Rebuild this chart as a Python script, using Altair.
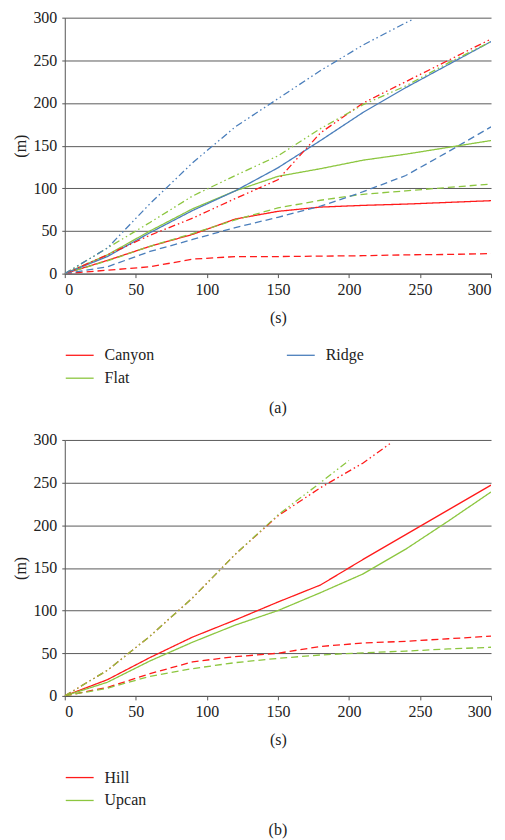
import altair as alt
import pandas as pd

# ---------------- data ----------------
T = [0, 30, 60, 90, 120, 150, 180, 210, 240, 270, 300]

# panel (a)
canyon_solid = [0, 15.5, 32, 46, 64, 73, 78, 80, 81.5, 83.5, 85.5]
canyon_dashed = [0, 4, 8, 17, 20, 20, 20.5, 21, 22, 22.5, 23.5]
canyon_dashdot = [0, 22, 45, 65, 88, 110, 165, 200, 225, 250, 275]
flat_solid = [0, 22, 50, 76, 97, 114, 123, 133, 140, 148, 156]
flat_dashed = [0, 15, 32, 47, 63, 77, 86, 93, 97, 101, 105]
flat_dashdot = [0, 30, 60, 91, 115, 138, 170, 198, 220, 247, 272]
ridge_solid = [0, 20, 48, 74, 97, 124, 156, 189, 218, 245, 272]
ridge_dashed = [0, 8, 26, 40, 54, 66, 79, 96, 115, 143, 172]
T_ridge_dd = [0, 30, 60, 90, 120, 150, 180, 210, 240, 245]
ridge_dashdot = [0, 30, 82, 130, 172, 205, 238, 268, 294, 298]

# panel (b)
hill_solid = [0, 19, 45, 69, 89, 110, 130, 160, 189, 218, 247]
hill_dashed = [0, 10, 26, 40, 46, 50, 58, 62, 64, 67, 70]
T_hill_dd = [0, 30, 60, 90, 120, 150, 180, 210, 230]
hill_dashdot = [0, 30, 70, 115, 166, 211, 244, 273, 297]
upcan_solid = [0, 16, 41, 63, 83, 100, 121, 143, 172, 205, 239]
upcan_dashed = [0, 9, 23, 32, 39, 44, 48, 50.5, 52.5, 55, 57]
T_upcan_dd = [0, 30, 60, 90, 120, 150, 180, 200]
upcan_dashdot = [0, 30, 70, 115, 166, 212, 250, 276]

X_TICKS = [0, 50, 100, 150, 200, 250, 300]
Y_TICKS = [0, 50, 100, 150, 200, 250, 300]

STYLES = ["solid", "dashed", "dashdot"]
DASHES = [[1, 0], [7, 4], [7, 3, 1.5, 3, 1.5, 3]]

RED = "#ff1a1a"
GREEN = "#8cc63f"
BLUE = "#4a7ebb"

FONT = "'Liberation Serif', 'DejaVu Serif', serif"


def build(series):
    rows = []
    for terrain, style, ts, vs in series:
        for t, v in zip(ts, vs):
            rows.append({"t": t, "v": v, "terrain": terrain, "style": style,
                         "series": terrain + "-" + style})
    return pd.DataFrame(rows)


df_a = build([
    ("Canyon", "dashed", T, canyon_dashed),
    ("Canyon", "solid", T, canyon_solid),
    ("Flat", "dashed", T, flat_dashed),
    ("Ridge", "dashed", T, ridge_dashed),
    ("Flat", "solid", T, flat_solid),
    ("Ridge", "solid", T, ridge_solid),
    ("Canyon", "dashdot", T, canyon_dashdot),
    ("Flat", "dashdot", T, flat_dashdot),
    ("Ridge", "dashdot", T_ridge_dd, ridge_dashdot),
])

df_b = build([
    ("Hill", "dashed", T, hill_dashed),
    ("Upcan", "dashed", T, upcan_dashed),
    ("Hill", "solid", T, hill_solid),
    ("Upcan", "solid", T, upcan_solid),
    ("Hill", "dashdot", T_hill_dd, hill_dashdot),
    ("Upcan", "dashdot", T_upcan_dd, upcan_dashdot),
])


def panel(df, domain, colors, columns, label):
    return alt.Chart(df).mark_line(strokeWidth=1.3, clip=True).encode(
        x=alt.X("t:Q",
                scale=alt.Scale(domain=[0, 300], nice=False),
                axis=alt.Axis(values=X_TICKS, title="(s)", grid=False,
                              tickSize=4, labelPadding=4, titlePadding=12,
                              domainColor="#555555", tickColor="#555555",
                              labelFont=FONT, titleFont=FONT)),
        y=alt.Y("v:Q",
                scale=alt.Scale(domain=[0, 300], nice=False),
                axis=alt.Axis(values=Y_TICKS, title="(m)", grid=True,
                              gridColor="#5a5a5a", gridWidth=1,
                              tickSize=3, labelPadding=5, titlePadding=4,
                              domainColor="#555555", tickColor="#555555",
                              labelFont=FONT, titleFont=FONT)),
        color=alt.Color("terrain:N",
                        scale=alt.Scale(domain=domain, range=colors),
                        legend=alt.Legend(title=None, orient="none",
                                          legendX=0, legendY=324,
                                          columns=columns, columnPadding=130,
                                          rowPadding=-5,
                                          symbolType="stroke", symbolSize=784,
                                          symbolStrokeWidth=1.3,
                                          labelOffset=10, labelFont=FONT)),
        strokeDash=alt.StrokeDash("style:N",
                                  scale=alt.Scale(domain=STYLES, range=DASHES),
                                  legend=None),
        detail="series:N",
    ).properties(
        width=428, height=257,
        title=alt.TitleParams(label, orient="bottom", anchor="middle",
                              fontSize=16, font=FONT, fontWeight="normal",
                              color="#222222", offset=14),
    )


pa = panel(df_a, ["Canyon", "Flat", "Ridge"], [RED, GREEN, BLUE], 2, "(a)")
pb = panel(df_b, ["Hill", "Upcan"], [RED, GREEN], 1, "(b)")

chart = alt.vconcat(pa, pb, spacing=16).resolve_scale(
    color="independent", strokeDash="independent"
).resolve_legend(color="independent").properties(
    padding={"left": 5, "top": 0, "right": 5, "bottom": 5}
).configure(font=FONT).configure_view(strokeWidth=0).configure_axis(
    labelFont=FONT, labelFontSize=16, labelColor="#222222",
    titleFont=FONT, titleFontSize=16, titleFontWeight="normal", titleColor="#222222",
).configure_legend(
    labelFont=FONT, labelFontSize=16, labelColor="#222222",
)

chart.save("out.html", embed_options={"renderer": "svg", "actions": False})
